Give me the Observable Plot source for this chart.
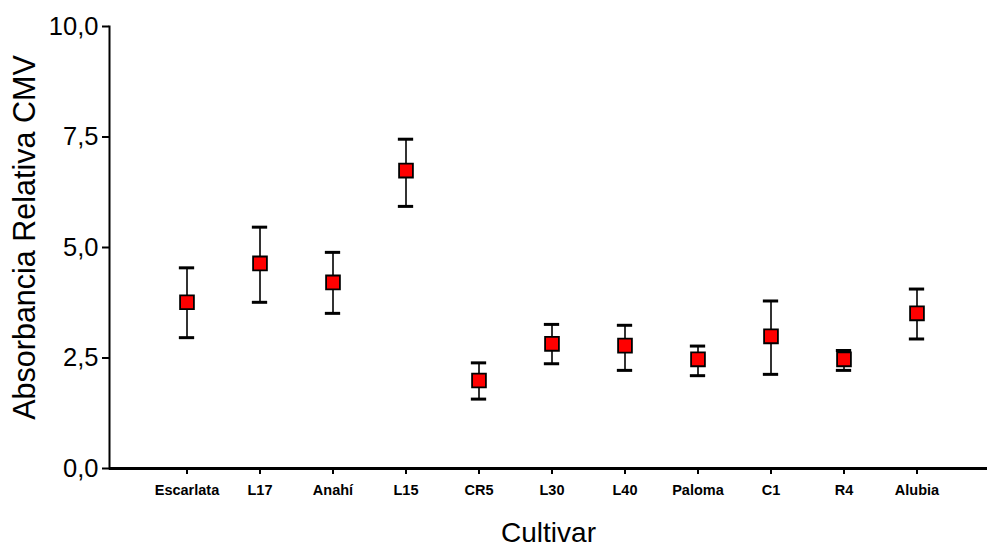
<!DOCTYPE html>
<html>
<head>
<meta charset="utf-8">
<script src="https://cdn.jsdelivr.net/npm/d3@7"></script>
<script src="https://cdn.jsdelivr.net/npm/@observablehq/plot@0.6"></script>
<style>
  html, body { margin: 0; padding: 0; background: #fff; }
  svg { display: block; }
</style>
</head>
<body>
<div id="chart"></div>
<script>
const cultivars = ["Escarlata","L17","Anahí","L15","CR5","L30","L40","Paloma","C1","R4","Alubia"];
const means = [3.76, 4.64, 4.21, 6.74, 1.99, 2.82, 2.78, 2.47, 2.99, 2.47, 3.51];
const lower = [2.96, 3.76, 3.51, 5.93, 1.57, 2.37, 2.22, 2.10, 2.13, 2.22, 2.93];
const upper = [4.54, 5.46, 4.89, 7.45, 2.39, 3.26, 3.24, 2.77, 3.79, 2.67, 4.06];
const yTicks = [0, 2.5, 5, 7.5, 10];
const xTitle = "Cultivar";
const yTitle = "Absorbancia Relativa CMV";

const data = cultivars.map((c, i) => ({cultivar: c, mean: means[i], lo: lower[i], hi: upper[i]}));

const step = 73.7;
const chart = Plot.plot({
  width: 987,
  height: 548,
  marginLeft: 109,
  marginRight: 0,
  marginTop: 26,
  marginBottom: 80,
  style: {fontFamily: "'Liberation Sans', Arial, sans-serif", color: "#000", background: "#fff"},
  x: {type: "band", domain: cultivars, range: [183 - step / 2, 920 + step / 2], padding: 0},
  y: {domain: [0, 10], range: [468, 26]},
  marks: [
    Plot.axisY({ticks: yTicks, tickFormat: d => d.toFixed(1).replace(".", ","), fontSize: 25.5, tickSize: 7, tickPadding: 4, strokeWidth: 2, label: null}),
    Plot.axisX({fontSize: 14.5, fontWeight: "bold", tickSize: 6, tickPadding: 10, strokeWidth: 2, label: null}),
    Plot.frame({anchor: "left", strokeWidth: 2}),
    Plot.ruleY([0], {strokeWidth: 3}),
    Plot.ruleX(data, {x: "cultivar", y1: "lo", y2: "hi", stroke: "#333", strokeWidth: 2}),
    Plot.tickY(data, {x: "cultivar", y: "hi", strokeWidth: 3, insetLeft: (step - 16) / 2, insetRight: (step - 16) / 2}),
    Plot.tickY(data, {x: "cultivar", y: "lo", strokeWidth: 3, insetLeft: (step - 16) / 2, insetRight: (step - 16) / 2}),
    Plot.dot(data, {x: "cultivar", y: "mean", symbol: "square", r: 7.8, fill: "#ff0000", stroke: "#000", strokeWidth: 1.8}),
    Plot.text([yTitle], {frameAnchor: "left", textAnchor: "middle", rotate: -90, dx: -84, dy: -10, fontSize: 30.5, fill: "#000"}),
    Plot.text([xTitle], {frameAnchor: "bottom", dy: 73, fontSize: 28, fill: "#000"})
  ]
});
document.getElementById("chart").appendChild(chart);
</script>
</body>
</html>
